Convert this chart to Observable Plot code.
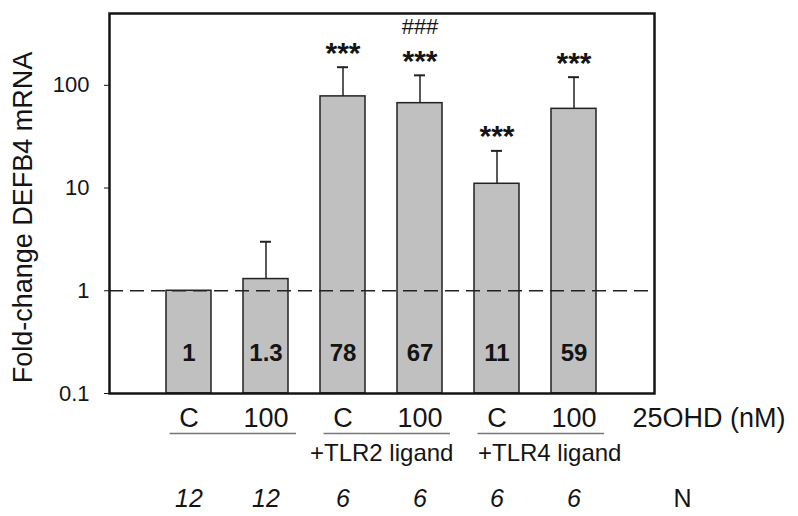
<!DOCTYPE html>
<html>
<head>
<meta charset="utf-8">
<script src="https://cdn.jsdelivr.net/npm/d3@7"></script>
<script src="https://cdn.jsdelivr.net/npm/@observablehq/plot@0.6"></script>
<style>
  html, body { margin: 0; padding: 0; background: #fff; }
  #chart { width: 798px; height: 516px; }
</style>
</head>
<body>
<div id="chart"></div>
<script>
// ---- data ----
const categories = ["C", "100", "C+TLR2", "100+TLR2", "C+TLR4", "100+TLR4"];
const doseLabels = ["C", "100", "C", "100", "C", "100"];
const foldChange = [1, 1.3, 78, 67, 11, 59];
const valueLabels = ["1", "1.3", "78", "67", "11", "59"];
const errorUpper = [null, 3.0, 150, 125, 23, 120];
const significance = ["", "", "***", "***", "***", "***"];
const vsControl = ["", "", "", "###", "", ""];
const nValues = ["12", "12", "6", "6", "6", "6"];
const groupFrom = ["C", "C+TLR2", "C+TLR4"];
const groupTo = ["100", "100+TLR2", "100+TLR4"];
const groupLabels = ["", "+TLR2 ligand", "+TLR4 ligand"];
const yTicks = [0.1, 1, 10, 100];
const yDomain = [0.1, 500];

const rows = categories.map((c, i) => ({
  key: c, dose: doseLabels[i], value: foldChange[i], label: valueLabels[i],
  upper: errorUpper[i], sig: significance[i], sig2: vsControl[i], n: nValues[i]
}));
const errRows = rows.filter(d => d.upper != null);
const groups = groupFrom.map((f, i) => ({from: f, to: groupTo[i], label: groupLabels[i]}));
const base = yDomain[0];

const font = "Liberation Sans, Arial, sans-serif";
const ink = "#141414";

const chart = Plot.plot({
  width: 798,
  height: 516,
  marginLeft: 109,
  marginRight: 144,
  marginTop: 13,
  marginBottom: 123,
  style: {fontFamily: font, fontSize: "22px", color: ink, background: "#fff", overflow: "visible"},
  x: {type: "band", domain: categories, paddingInner: 0.41, paddingOuter: 0.705, axis: null},
  y: {type: "log", domain: yDomain, ticks: yTicks, tickFormat: d => String(d), tickSize: 5, tickPadding: 15, label: null},
  marks: [
    Plot.barY(rows, {x: "key", y1: base, y2: "value", fill: "#c0c0c0", stroke: "#222", strokeWidth: 1.5}),
    Plot.ruleY([1], {stroke: "#222", strokeWidth: 1.5, strokeDasharray: "14,7"}),
    Plot.ruleX(errRows, {x: "key", y1: "value", y2: "upper", stroke: "#222", strokeWidth: 1.5}),
    Plot.tickY(errRows, {x: "key", y: "upper", stroke: "#222", strokeWidth: 2, insetLeft: 17, insetRight: 17}),
    Plot.text(errRows, {x: "key", y: "upper", text: "sig", dy: -14, fontSize: 30, fontWeight: "bold", fill: ink}),
    Plot.text(errRows, {x: "key", y: "upper", text: "sig2", dy: -48, fontSize: 22, fill: ink}),
    Plot.text(rows, {x: "key", y: () => base, text: "label", dy: -40, fontSize: 24, fontWeight: "bold", fill: ink}),
    Plot.frame({stroke: ink, strokeWidth: 2.5}),
    // category labels
    Plot.text(rows, {x: "key", text: "dose", frameAnchor: "bottom", dy: 33, fontSize: 27, fill: ink}),
    // group underlines
    Plot.ruleY(groups, {y: () => base, x1: "from", x2: "to", dy: 40, insetLeft: 3.5, insetRight: -8, stroke: "#777", strokeWidth: 1.5}),
    Plot.text(groups.slice(1, 2), {x: "from", text: "label", frameAnchor: "bottom", dy: 67, dx: -33, textAnchor: "start", fontSize: 24, fill: ink}),
    Plot.text(groups.slice(2, 3), {x: "from", text: "label", frameAnchor: "bottom", dy: 67, dx: -19, textAnchor: "start", fontSize: 24, fill: ink}),
    // N row
    Plot.text(rows, {x: "key", text: "n", frameAnchor: "bottom", dy: 113, fontSize: 25, fontStyle: "italic", fill: ink}),
    Plot.text(["25OHD (nM)"], {frameAnchor: "bottom-right", dx: -22, dy: 33, textAnchor: "start", fontSize: 27, fill: ink}),
    Plot.text(["N"], {frameAnchor: "bottom-right", dx: 37, dy: 113, fontSize: 25, fill: ink}),
    Plot.text(["Fold-change DEFB4 mRNA"], {frameAnchor: "left", rotate: -90, dx: -86, dy: 14, textAnchor: "middle", fontSize: 27, fill: ink})
  ]
});
document.getElementById("chart").appendChild(chart);
</script>
</body>
</html>
